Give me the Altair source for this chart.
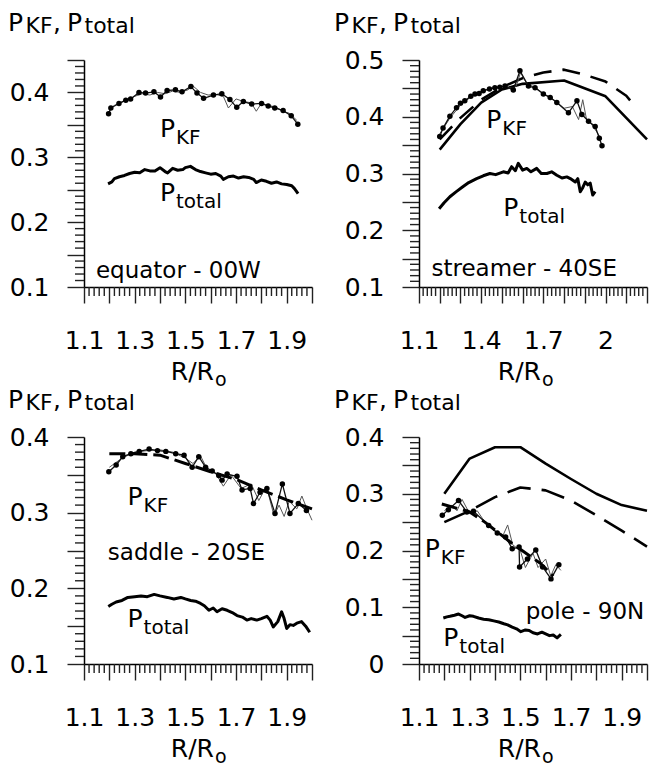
import altair as alt
import pandas as pd

FONT = "DejaVu Sans"

# ---------------- panel 1 : equator - 00W ----------------
EQ_DOT_R = [1.197, 1.206, 1.238, 1.265, 1.284, 1.317, 1.343, 1.376, 1.402, 1.428, 1.461, 1.487, 1.522, 1.546,
            1.572, 1.611, 1.644, 1.676, 1.703, 1.729, 1.762, 1.801, 1.827, 1.853, 1.886, 1.918, 1.944]
EQ_DOT_P = [0.367, 0.376, 0.383, 0.388, 0.390, 0.400, 0.399, 0.401, 0.393, 0.403, 0.404, 0.401, 0.409, 0.399,
            0.391, 0.396, 0.398, 0.389, 0.377, 0.386, 0.382, 0.383, 0.379, 0.376, 0.372, 0.364, 0.351]
EQ_THIN_R = [1.20, 1.22, 1.25, 1.28, 1.30, 1.33, 1.36, 1.39, 1.42, 1.45, 1.48, 1.51, 1.53, 1.56, 1.59, 1.62,
             1.65, 1.67, 1.70, 1.73, 1.76, 1.78, 1.80, 1.83, 1.86, 1.89, 1.91, 1.94]
EQ_THIN_P = [0.374, 0.380, 0.385, 0.390, 0.394, 0.398, 0.396, 0.400, 0.398, 0.402, 0.400, 0.404, 0.410, 0.400,
             0.396, 0.397, 0.394, 0.376, 0.390, 0.386, 0.384, 0.371, 0.383, 0.380, 0.377, 0.370, 0.368, 0.357]
EQ_TOT_R = [1.195, 1.21, 1.22, 1.24, 1.26, 1.28, 1.30, 1.32, 1.34, 1.36, 1.38, 1.40, 1.42, 1.43, 1.45, 1.47,
            1.49, 1.50, 1.52, 1.54, 1.56, 1.58, 1.60, 1.62, 1.64, 1.65, 1.67, 1.69, 1.71, 1.73, 1.75, 1.77,
            1.78, 1.80, 1.82, 1.84, 1.86, 1.88, 1.90, 1.92, 1.93, 1.945]
EQ_TOT_P = [0.259, 0.262, 0.267, 0.270, 0.272, 0.275, 0.277, 0.276, 0.281, 0.279, 0.279, 0.284, 0.278, 0.276,
            0.283, 0.280, 0.281, 0.284, 0.286, 0.281, 0.278, 0.276, 0.274, 0.275, 0.271, 0.266, 0.270, 0.271,
            0.268, 0.270, 0.269, 0.266, 0.261, 0.265, 0.263, 0.260, 0.262, 0.259, 0.258, 0.256, 0.252, 0.244]

# ---------------- panel 2 : streamer - 40SE ----------------
ST_DOT_R = [1.200, 1.216, 1.249, 1.281, 1.300, 1.321, 1.350, 1.370, 1.390, 1.410, 1.440, 1.466, 1.490, 1.515,
            1.555, 1.587, 1.628, 1.660, 1.700, 1.733, 1.765, 1.821, 1.862, 1.886, 1.918, 1.950, 1.970, 1.983]
ST_DOT_P = [0.365, 0.380, 0.401, 0.416, 0.424, 0.428, 0.436, 0.440, 0.441, 0.446, 0.449, 0.451, 0.452, 0.454,
            0.447, 0.481, 0.454, 0.451, 0.440, 0.434, 0.425, 0.407, 0.428, 0.404, 0.392, 0.383, 0.362, 0.349]
ST_THIN_R = [1.20, 1.25, 1.30, 1.35, 1.40, 1.45, 1.50, 1.55, 1.57, 1.59, 1.62, 1.66, 1.70, 1.75, 1.80, 1.84,
             1.87, 1.89, 1.91, 1.93, 1.96, 1.98]
ST_THIN_P = [0.370, 0.398, 0.420, 0.435, 0.444, 0.450, 0.453, 0.450, 0.455, 0.478, 0.458, 0.452, 0.441, 0.430,
             0.415, 0.418, 0.395, 0.430, 0.392, 0.388, 0.372, 0.360]
ST_TOT_R = [1.197, 1.22, 1.249, 1.28, 1.313, 1.34, 1.378, 1.41, 1.442, 1.47, 1.507, 1.53, 1.547, 1.565, 1.579,
            1.60, 1.62, 1.64, 1.668, 1.69, 1.717, 1.74, 1.765, 1.79, 1.813, 1.835, 1.854, 1.866, 1.878, 1.89,
            1.902, 1.914, 1.926, 1.938, 1.95]
ST_TOT_P = [0.238, 0.248, 0.259, 0.268, 0.277, 0.284, 0.291, 0.296, 0.300, 0.298, 0.303, 0.301, 0.312, 0.305,
            0.318, 0.306, 0.309, 0.303, 0.309, 0.300, 0.300, 0.303, 0.297, 0.292, 0.294, 0.290, 0.285, 0.291,
            0.268, 0.275, 0.285, 0.280, 0.283, 0.262, 0.268]
ST_SOLID_R = [1.2, 1.3, 1.4, 1.5, 1.6, 1.8, 2.0, 2.2]
ST_SOLID_P = [0.342, 0.387, 0.425, 0.448, 0.458, 0.464, 0.436, 0.360]
ST_DASH_R = [1.2, 1.3, 1.4, 1.5, 1.6, 1.7, 1.8, 1.9, 2.0, 2.1, 2.15]
ST_DASH_P = [0.360, 0.398, 0.430, 0.452, 0.468, 0.478, 0.483, 0.474, 0.462, 0.437, 0.415]

# ---------------- panel 3 : saddle - 20SE ----------------
SA_DOT_R = [1.198, 1.227, 1.253, 1.285, 1.318, 1.357, 1.390, 1.423, 1.462, 1.495, 1.527, 1.553, 1.580, 1.606,
            1.632, 1.645, 1.665, 1.704, 1.724, 1.756, 1.769, 1.795, 1.822, 1.854, 1.883, 1.913, 1.946, 1.978]
SA_DOT_P = [0.354, 0.363, 0.374, 0.378, 0.381, 0.384, 0.382, 0.381, 0.378, 0.376, 0.360, 0.374, 0.360, 0.355,
            0.349, 0.343, 0.351, 0.348, 0.330, 0.332, 0.312, 0.327, 0.332, 0.299, 0.338, 0.299, 0.312, 0.303]
SA_THIN_R = [1.20, 1.25, 1.30, 1.35, 1.40, 1.45, 1.50, 1.53, 1.56, 1.59, 1.62, 1.65, 1.68, 1.72, 1.76, 1.79,
             1.82, 1.85, 1.87, 1.89, 1.91, 1.94, 1.96, 1.98, 2.00]
SA_THIN_P = [0.360, 0.372, 0.380, 0.382, 0.383, 0.380, 0.372, 0.365, 0.375, 0.355, 0.352, 0.335, 0.350, 0.332,
             0.338, 0.316, 0.335, 0.296, 0.310, 0.295, 0.315, 0.305, 0.322, 0.305, 0.290]
SA_FIT_R = [1.2, 1.3, 1.4, 1.5, 1.6, 1.7, 1.8, 1.9, 2.0]
SA_FIT_P = [0.378, 0.378, 0.376, 0.365, 0.354, 0.344, 0.330, 0.317, 0.305]
SA_TOT_R = [1.196, 1.21, 1.227, 1.25, 1.273, 1.30, 1.325, 1.35, 1.377, 1.40, 1.429, 1.455, 1.482, 1.50, 1.521,
            1.54, 1.56, 1.575, 1.593, 1.61, 1.625, 1.645, 1.665, 1.685, 1.704, 1.725, 1.743, 1.76, 1.782, 1.80,
            1.822, 1.835, 1.847, 1.865, 1.88, 1.89, 1.90, 1.913, 1.926, 1.94, 1.959, 1.975, 1.991]
SA_TOT_P = [0.176, 0.179, 0.182, 0.184, 0.188, 0.189, 0.190, 0.189, 0.192, 0.190, 0.188, 0.186, 0.188, 0.186,
            0.184, 0.183, 0.180, 0.177, 0.171, 0.174, 0.169, 0.173, 0.171, 0.168, 0.164, 0.162, 0.158, 0.160,
            0.158, 0.160, 0.163, 0.158, 0.149, 0.156, 0.169, 0.160, 0.147, 0.152, 0.151, 0.154, 0.156, 0.150,
            0.142]

# ---------------- panel 4 : pole - 90N ----------------
PO_DOT_R = [1.192, 1.216, 1.256, 1.289, 1.315, 1.375, 1.409, 1.442, 1.468, 1.495, 1.497, 1.528, 1.561, 1.588,
            1.621, 1.652]
PO_DOT_P = [0.262, 0.272, 0.288, 0.268, 0.269, 0.244, 0.231, 0.224, 0.203, 0.206, 0.171, 0.185, 0.201, 0.171,
            0.150, 0.175]
PO_THIN_R = [1.20, 1.23, 1.25, 1.27, 1.30, 1.33, 1.36, 1.40, 1.43, 1.45, 1.47, 1.50, 1.52, 1.55, 1.57, 1.60,
             1.62, 1.64, 1.66]
PO_THIN_P = [0.270, 0.280, 0.270, 0.290, 0.265, 0.270, 0.250, 0.235, 0.225, 0.245, 0.210, 0.200, 0.170, 0.195,
             0.170, 0.185, 0.155, 0.175, 0.165]
PO_FIT_R = [1.19, 1.30, 1.36, 1.46, 1.58, 1.63]
PO_FIT_P = [0.282, 0.268, 0.250, 0.215, 0.177, 0.155]
PO_TOT_R = [1.196, 1.21, 1.222, 1.24, 1.256, 1.27, 1.282, 1.30, 1.315, 1.335, 1.355, 1.375, 1.395, 1.415, 1.435,
            1.45, 1.468, 1.485, 1.502, 1.52, 1.535, 1.55, 1.568, 1.585, 1.60, 1.615, 1.63, 1.645, 1.66]
PO_TOT_P = [0.081, 0.083, 0.084, 0.086, 0.088, 0.085, 0.082, 0.085, 0.084, 0.081, 0.079, 0.078, 0.076, 0.074,
            0.071, 0.069, 0.065, 0.062, 0.057, 0.060, 0.059, 0.055, 0.053, 0.056, 0.053, 0.050, 0.051, 0.046,
            0.052]
PO_SOLID_R = [1.2, 1.3, 1.4, 1.5, 1.6, 1.7, 1.8, 1.9, 2.0]
PO_SOLID_P = [0.300, 0.362, 0.382, 0.382, 0.353, 0.326, 0.300, 0.280, 0.270]
PO_DASH_R = [1.2, 1.3, 1.4, 1.5, 1.6, 1.7, 1.8, 1.9, 2.0]
PO_DASH_P = [0.250, 0.270, 0.294, 0.311, 0.306, 0.288, 0.262, 0.235, 0.207]

# ---------------- axes / labels ----------------
X_LABELS_A = [1.1, 1.3, 1.5, 1.7, 1.9]
X_LABELS_B = [1.1, 1.4, 1.7, 2.0]
Y_LABELS_1 = [0.1, 0.2, 0.3, 0.4]
Y_LABELS_2 = [0.1, 0.2, 0.3, 0.4, 0.5]
Y_LABELS_3 = [0.1, 0.2, 0.3, 0.4]
Y_LABELS_4 = [0.0, 0.1, 0.2, 0.3, 0.4]

REGION_NAMES = ["equator - 00W", "streamer - 40SE", "saddle - 20SE", "pole - 90N"]
# annotation anchors (R, P) for "P_KF", "P_total" and the region name
EQ_ANN = [(1.40, 0.332), (1.40, 0.232), (1.147, 0.114)]
ST_ANN = [(1.425, 0.380), (1.507, 0.225), (1.16, 0.120)]
SA_ANN = [(1.272, 0.310), (1.272, 0.1485), (1.194, 0.237)]
PO_ANN = [(1.123, 0.188), (1.196, 0.0324), (1.521, 0.079)]

W, H = 228, 227
ONE = pd.DataFrame({"k": [0]})
TICK_COLOR = "#222222"


def ticks(lo, hi, step):
    n = int(round((hi - lo) / step))
    return [round(lo + i * step, 3) for i in range(n + 1)]


def js(vals):
    return "[" + ",".join(repr(float(v)) for v in vals) + "]"


def make_panel(xdom, ydom, xlabels, ylabels, dots, thin, total, fits, models, ann, region, col):
    xt, xmaj = ticks(xdom[0], xdom[1], 0.02), ticks(xdom[0], xdom[1], 0.1)
    yt, ymaj = ticks(ydom[0], ydom[1], 0.01), ticks(ydom[0], ydom[1], 0.05)
    xminor = [v for v in xt if v not in xmaj]
    yminor = [v for v in yt if v not in ymaj]
    xaxis = alt.Axis(
        values=xmaj, title=None, grid=False, labelOverlap=False, labelFlush=False, labelBound=False,
        tickSize=16, labelPadding=25,
        labelExpr=f"indexof({js(xlabels)}, datum.value) >= 0 ? format(datum.value, '~g') : ''",
        labelFontSize=25, labelFont=FONT, labelColor="black",
    )
    yaxis = alt.Axis(
        values=ymaj, title=None, grid=False, labelOverlap=False, labelFlush=False, labelBound=False,
        tickSize=17, labelPadding=18,
        labelExpr=f"indexof({js(ylabels)}, datum.value) >= 0 ? format(datum.value, '~g') : ''",
        labelFontSize=25, labelFont=FONT, labelColor="black",
    )
    xenc = alt.X("R:Q", scale=alt.Scale(domain=xdom, nice=False, zero=False), axis=xaxis)
    yenc = alt.Y("P:Q", scale=alt.Scale(domain=ydom, nice=False, zero=False), axis=yaxis)

    def frame(R, P):
        return pd.DataFrame({"R": R, "P": P, "i": list(range(len(R)))})

    def line(R, P, color, width, dash=None):
        kw = dict(color=color, strokeWidth=width, strokeJoin="round")
        if dash:
            kw["strokeDash"] = dash
        return alt.Chart(frame(R, P)).mark_line(**kw).encode(x=xenc, y=yenc, order="i:Q")

    layers = [
        # minor ticks of both axes
        alt.Chart(pd.DataFrame({"R": xminor})).mark_rule(color=TICK_COLOR, strokeWidth=1.4).encode(
            x=xenc, y=alt.value(H), y2=alt.value(H + 9)),
        alt.Chart(pd.DataFrame({"P": yminor})).mark_rule(color=TICK_COLOR, strokeWidth=1.4).encode(
            y=yenc, x=alt.value(0), x2=alt.value(-9)),
    ]
    for (R, P, dash) in models:
        layers.append(line(R, P, "black", 2.6, dash))
    layers.append(line(thin[0], thin[1], "#555555", 1.0))
    layers.append(line(dots[0], dots[1], "#111111", 1.3))
    for (R, P) in fits:
        layers.append(line(R, P, "black", 3.0, [16, 6]))
    layers.append(alt.Chart(frame(*dots)).mark_circle(color="black", opacity=1, size=30).encode(x=xenc, y=yenc))
    layers.append(line(total[0], total[1], "black", 3.0))

    def dtext(txt, R, P, size, dx=0, dy=0):
        return alt.Chart(pd.DataFrame({"R": [R], "P": [P]})).mark_text(
            text=txt, font=FONT, fontSize=size, align="left", baseline="alphabetic", dx=dx, dy=dy,
            color="black").encode(x=xenc, y=yenc)

    (kr, kp), (tr, tp), (rr, rp) = ann
    layers += [dtext("P", kr, kp, 25), dtext("KF", kr, kp, 20, dx=16, dy=7),
               dtext("P", tr, tp, 25), dtext("total", tr, tp, 20, dx=16, dy=7),
               dtext(region, rr, rp, 23)]

    def ptext(txt, x, y, size, align="left"):
        return alt.Chart(ONE).mark_text(text=txt, font=FONT, fontSize=size, align=align,
                                        baseline="alphabetic", color="black").encode(
            x=alt.value(x), y=alt.value(y))

    x0 = -76 if col == 0 else -85
    ty = -29
    layers += [ptext("P", x0, ty, 25), ptext("KF", x0 + 17.5, ty + 1.5, 22),
               ptext(",", x0 + 45, ty, 25), ptext("P", x0 + 59, ty, 25),
               ptext("total", x0 + 76.5, ty + 1.5, 22)]
    rx = 130 if col == 0 else 122
    layers += [ptext("R/R", rx, H + 93, 25, align="right"), ptext("o", rx + 1, H + 99, 19)]

    return alt.layer(*layers).properties(width=W, height=H)


p1 = make_panel([1.1, 2.0], [0.1, 0.45], X_LABELS_A, Y_LABELS_1,
                (EQ_DOT_R, EQ_DOT_P), (EQ_THIN_R, EQ_THIN_P), (EQ_TOT_R, EQ_TOT_P), [], [],
                EQ_ANN, REGION_NAMES[0], 0)
p2 = make_panel([1.1, 2.2], [0.1, 0.5], X_LABELS_B, Y_LABELS_2,
                (ST_DOT_R, ST_DOT_P), (ST_THIN_R, ST_THIN_P), (ST_TOT_R, ST_TOT_P), [],
                [(ST_SOLID_R, ST_SOLID_P, None), (ST_DASH_R, ST_DASH_P, [18, 11])],
                ST_ANN, REGION_NAMES[1], 1)
p3 = make_panel([1.1, 2.0], [0.1, 0.4], X_LABELS_A, Y_LABELS_3,
                (SA_DOT_R, SA_DOT_P), (SA_THIN_R, SA_THIN_P), (SA_TOT_R, SA_TOT_P),
                [(SA_FIT_R, SA_FIT_P)], [], SA_ANN, REGION_NAMES[2], 0)
p4 = make_panel([1.1, 2.0], [0.0, 0.4], X_LABELS_A, Y_LABELS_4,
                (PO_DOT_R, PO_DOT_P), (PO_THIN_R, PO_THIN_P), (PO_TOT_R, PO_TOT_P),
                [(PO_FIT_R, PO_FIT_P)],
                [(PO_SOLID_R, PO_SOLID_P, None), (PO_DASH_R, PO_DASH_P, [24, 11])],
                PO_ANN, REGION_NAMES[3], 1)

chart = alt.concat(p1, p2, p3, p4, columns=2, spacing={"row": 150, "column": 107}, bounds="flush") \
    .resolve_scale(x="independent", y="independent") \
    .configure_view(stroke=None) \
    .configure_axis(domainColor="black", domainWidth=1.5, tickColor=TICK_COLOR, tickWidth=1.4) \
    .properties(padding={"top": 3, "left": 0, "right": 0, "bottom": 0}, background="white")

chart.save("out.html", embed_options={"renderer": "svg", "actions": False})
